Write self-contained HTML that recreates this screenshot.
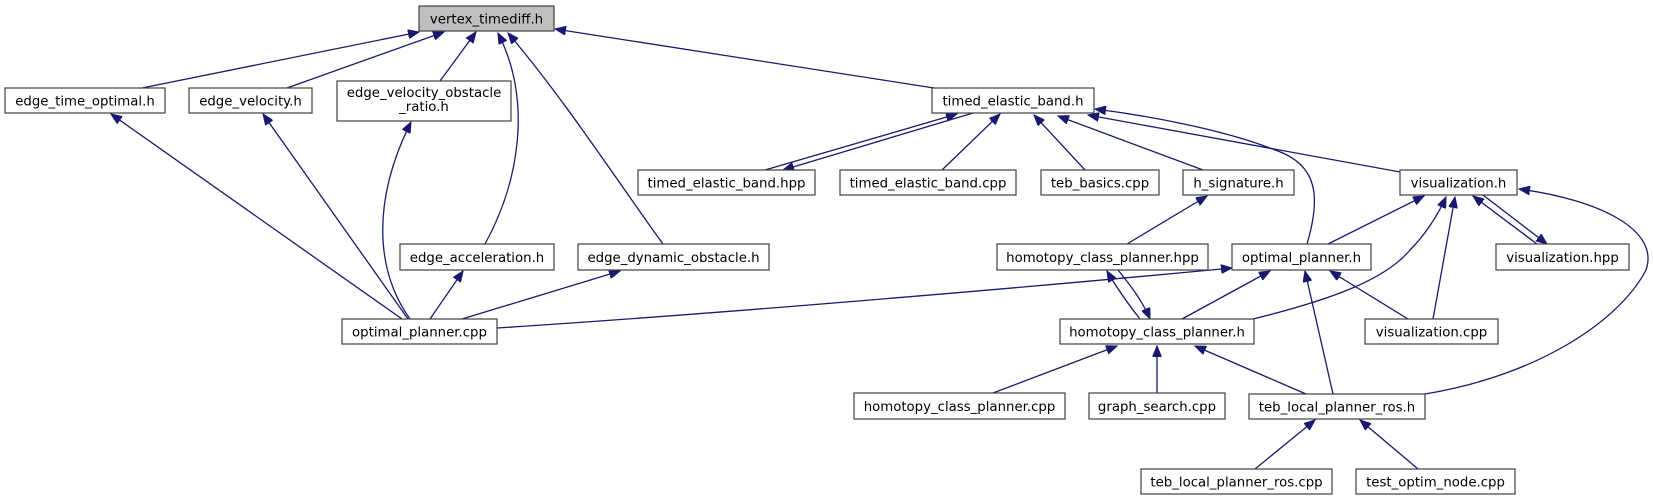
<!DOCTYPE html>
<html><head><meta charset="utf-8"><style>
html,body{margin:0;padding:0;background:#fff;}
svg{display:block;}
text{font-family:"DejaVu Sans","Liberation Sans",sans-serif;font-size:13.3px;fill:#000;}
.b{fill:#fff;stroke:#404040;stroke-width:1.2;}
.e{fill:none;stroke:#191970;stroke-width:1.3;marker-end:url(#a);}
</style></head><body>
<svg width="1653" height="500" viewBox="0 0 1653 500" xmlns="http://www.w3.org/2000/svg">
<defs><marker id="a" markerUnits="userSpaceOnUse" markerWidth="12" markerHeight="9" refX="11" refY="4.5" orient="auto"><path d="M0,0 L11,4.5 L0,9 z" fill="#191970" stroke="#191970"/></marker></defs>

<!-- edges -->
<path class="e" d="M142,88 L419,32"/>
<path class="e" d="M287,88 L444,32"/>
<path class="e" d="M440,81 L476,32"/>
<path class="e" d="M485,244 C520,180 532,100 498,33"/>
<path class="e" d="M663,244 C620,185 565,100 508,33"/>
<path class="e" d="M934,88 L555,29"/>
<path class="e" d="M402,319 L111,114"/>
<path class="e" d="M408,319 L263,114"/>
<path class="e" d="M410,319 C375,270 372,200 411,122"/>
<path class="e" d="M430,319 L463,271"/>
<path class="e" d="M462,319 L620,271"/>
<path class="e" d="M497,328 C700,315 1000,290 1232,268"/>
<path class="e" d="M765,170 L957,114"/>
<path class="e" d="M973,113 L783,170"/>
<path class="e" d="M942,170 L1000,114"/>
<path class="e" d="M1085,170 L1034,115"/>
<path class="e" d="M1203,170 L1058,116"/>
<path class="e" d="M1400,172 L1088,115"/>
<path class="e" d="M1307,244 C1320,200 1320,165 1275,150 C1225,130 1150,116 1095,109"/>
<path class="e" d="M1127,244 L1207,196"/>
<path class="e" d="M1328,244 L1424,196"/>
<path class="e" d="M1253,319 C1330,300 1385,280 1410,250 C1425,235 1438,215 1446,197"/>
<path class="e" d="M1433,319 L1455,197"/>
<path class="e" d="M1537,244 L1473,196"/>
<path class="e" d="M1483,195 L1547,244"/>
<path class="e" d="M1425,394 C1540,375 1620,320 1646,270 C1660,230 1600,200 1519,189"/>
<path class="e" d="M1182,319 L1270,271"/>
<path class="e" d="M1140,319 C1125,300 1115,285 1107,271"/>
<path class="e" d="M1118,270 C1130,285 1142,300 1150,319"/>
<path class="e" d="M1408,319 L1330,271"/>
<path class="e" d="M1333,394 L1305,271"/>
<path class="e" d="M993,393 L1117,346"/>
<path class="e" d="M1157,393 L1157,346"/>
<path class="e" d="M1306,394 L1195,346"/>
<path class="e" d="M1255,469 L1315,420"/>
<path class="e" d="M1418,469 L1360,420"/>

<!-- nodes -->
<rect x="419" y="6" width="135" height="25" fill="#bfbfbf" stroke="#404040" stroke-width="1.2"/>
<text x="486.5" y="23.5" text-anchor="middle">vertex_timediff.h</text>

<rect class="b" x="5" y="88" width="160" height="25"/><text x="85" y="105.5" text-anchor="middle">edge_time_optimal.h</text>
<rect class="b" x="189" y="88" width="123" height="25"/><text x="250.5" y="105.5" text-anchor="middle">edge_velocity.h</text>
<rect class="b" x="337" y="81" width="174" height="40"/><text x="424" y="97" text-anchor="middle">edge_velocity_obstacle</text><text x="424" y="111" text-anchor="middle">_ratio.h</text>
<rect class="b" x="932" y="88" width="162" height="25"/><text x="1013" y="105.5" text-anchor="middle">timed_elastic_band.h</text>

<rect class="b" x="638" y="170" width="177" height="25"/><text x="726.5" y="187.5" text-anchor="middle">timed_elastic_band.hpp</text>
<rect class="b" x="840" y="170" width="176" height="25"/><text x="928" y="187.5" text-anchor="middle">timed_elastic_band.cpp</text>
<rect class="b" x="1041" y="170" width="118" height="25"/><text x="1100" y="187.5" text-anchor="middle">teb_basics.cpp</text>
<rect class="b" x="1183" y="170" width="111" height="25"/><text x="1238.5" y="187.5" text-anchor="middle">h_signature.h</text>
<rect class="b" x="1400" y="170" width="117" height="25"/><text x="1458.5" y="187.5" text-anchor="middle">visualization.h</text>

<rect class="b" x="400" y="244" width="154" height="26"/><text x="477" y="262" text-anchor="middle">edge_acceleration.h</text>
<rect class="b" x="578" y="244" width="191" height="26"/><text x="673.5" y="262" text-anchor="middle">edge_dynamic_obstacle.h</text>
<rect class="b" x="997" y="244" width="211" height="26"/><text x="1102.5" y="262" text-anchor="middle">homotopy_class_planner.hpp</text>
<rect class="b" x="1232" y="244" width="139" height="26"/><text x="1301.5" y="262" text-anchor="middle">optimal_planner.h</text>
<rect class="b" x="1496" y="244" width="133" height="26"/><text x="1562.5" y="262" text-anchor="middle">visualization.hpp</text>

<rect class="b" x="342" y="319" width="155" height="25"/><text x="419.5" y="336.5" text-anchor="middle">optimal_planner.cpp</text>
<rect class="b" x="1060" y="319" width="194" height="25"/><text x="1157" y="336.5" text-anchor="middle">homotopy_class_planner.h</text>
<rect class="b" x="1365" y="319" width="133" height="25"/><text x="1431.5" y="336.5" text-anchor="middle">visualization.cpp</text>

<rect class="b" x="854" y="393" width="211" height="26"/><text x="959.5" y="411" text-anchor="middle">homotopy_class_planner.cpp</text>
<rect class="b" x="1089" y="393" width="136" height="26"/><text x="1157" y="411" text-anchor="middle">graph_search.cpp</text>
<rect class="b" x="1249" y="394" width="176" height="25"/><text x="1337" y="411.5" text-anchor="middle">teb_local_planner_ros.h</text>

<rect class="b" x="1141" y="469" width="191" height="25"/><text x="1236.5" y="486.5" text-anchor="middle">teb_local_planner_ros.cpp</text>
<rect class="b" x="1356" y="469" width="159" height="25"/><text x="1435.5" y="486.5" text-anchor="middle">test_optim_node.cpp</text>
</svg>
</body></html>
